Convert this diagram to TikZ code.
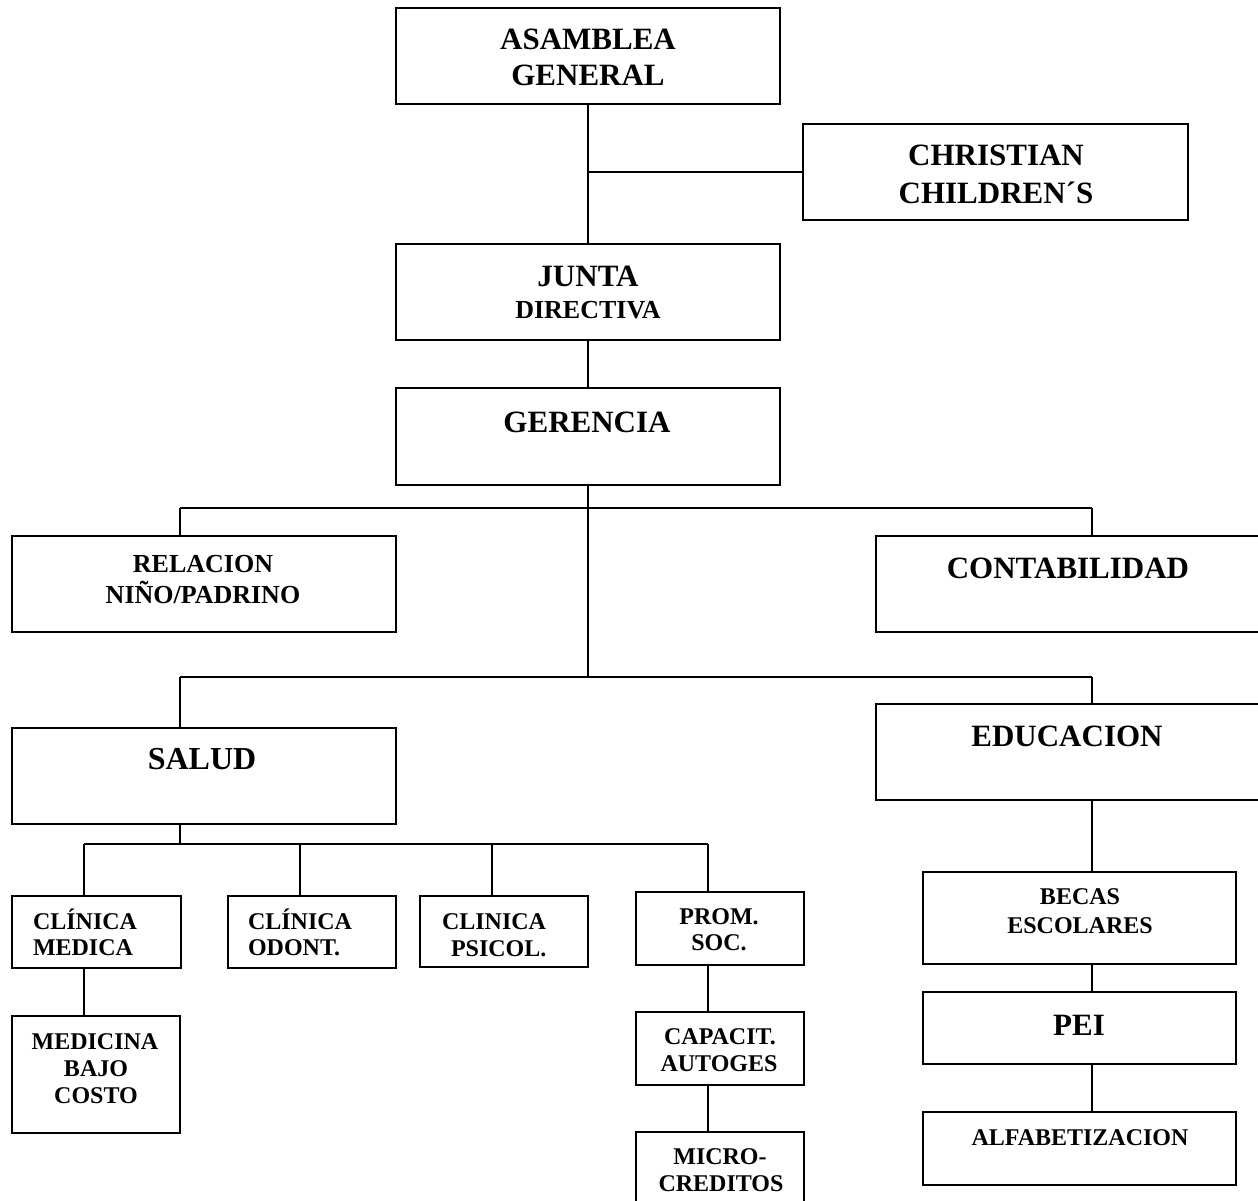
\documentclass[tikz,border=0pt]{standalone}
\usepackage{fontspec}
\setmainfont{Liberation Serif}
\newcommand{\tline}[6]{\node[tl, anchor=#2, font=\fontsize{#5}{#5}\selectfont\bfseries] (#1) at (#3,{#4+0.33*#5}) {#6};}
\newcommand{\bx}[5]{\node[box, minimum width={(#4)-(#2)}, minimum height={(#5)-(#3)}] (#1) at ({((#2)+(#4))/2},{((#3)+(#5))/2}) {};}
\begin{document}
\begin{tikzpicture}[x=1pt,y=-1pt,
  box/.style={draw, line width=1.8pt, inner sep=0pt, outer sep=0pt},
  tl/.style={inner sep=0pt, outer sep=0pt},
  conn/.style={line width=1.8pt}]
\useasboundingbox (0,0) rectangle (1258,1201);
\clip (0,0) rectangle (1258,1201);
% boxes
\bx{asm}{396}{8}{780}{104}
\bx{chr}{803}{124}{1188}{220}
\bx{jun}{396}{244}{780}{340}
\bx{ger}{396}{388}{780}{485}
\bx{rel}{12}{536}{396}{632}
\bx{con}{876}{536}{1259}{632}
\bx{sal}{12}{728}{396}{824}
\bx{edu}{876}{704}{1259}{800}
\bx{cme}{12}{896}{181}{968}
\bx{cod}{228}{896}{396}{968}
\bx{cps}{420}{896}{588}{967}
\bx{pro}{636}{892}{804}{965}
\bx{mbc}{12}{1016}{180}{1133}
\bx{cap}{636}{1012}{804}{1085}
\bx{mic}{636}{1132}{804}{1206}
\bx{bec}{923}{872}{1236}{964}
\bx{pei}{923}{992}{1236}{1064}
\bx{alf}{923}{1112}{1236}{1185}
% texts
\tline{t1}{base}{588}{39}{31}{ASAMBLEA}
\tline{t2}{base}{588}{75}{31}{GENERAL}
\tline{t3}{base}{996}{155}{31}{CHRISTIAN}
\tline{t4}{base}{996}{193}{31}{CHILDREN´S}
\tline{t5}{base}{588}{276}{31}{JUNTA}
\tline{t6}{base}{588}{310}{26}{DIRECTIVA}
\tline{t7}{base}{587}{422}{31}{GERENCIA}
\tline{t8}{base}{203}{564}{26}{RELACION}
\tline{t9}{base}{203}{595}{26}{NIÑO/PADRINO}
\tline{t10}{base}{1068}{568}{31}{CONTABILIDAD}
\tline{t11}{base}{202}{759}{32}{SALUD}
\tline{t12}{base}{1067}{736}{31}{EDUCACION}
\tline{t13}{base west}{33}{922}{24}{CLÍNICA}
\tline{t14}{base west}{33}{948}{24}{MEDICA}
\tline{t15}{base west}{248}{922}{24}{CLÍNICA}
\tline{t16}{base west}{248}{948}{24}{ODONT.}
\tline{t17}{base west}{442}{922}{24}{CLINICA}
\tline{t18}{base west}{451}{949}{24}{PSICOL.}
\tline{t19}{base}{719}{917}{24}{PROM.}
\tline{t20}{base}{719}{943}{24}{SOC.}
\tline{t21}{base}{95}{1042}{24}{MEDICINA}
\tline{t22}{base}{96}{1069}{24}{BAJO}
\tline{t23}{base}{96}{1096}{24}{COSTO}
\tline{t24}{base}{720}{1037}{24}{CAPACIT.}
\tline{t25}{base}{719}{1064}{24}{AUTOGES}
\tline{t26}{base}{720}{1157}{24}{MICRO-}
\tline{t27}{base}{721}{1184}{24}{CREDITOS}
\tline{t28}{base}{1080}{897}{24}{BECAS}
\tline{t29}{base}{1080}{926}{24}{ESCOLARES}
\tline{t30}{base}{1079}{1025}{31}{PEI}
\tline{t31}{base}{1080}{1138}{24}{ALFABETIZACION}
% junction coordinates
\coordinate (jc) at (588,172);
\coordinate (j1) at (588,508);
\coordinate (j1l) at (180,508);
\coordinate (j1r) at (1092,508);
\coordinate (j2) at (588,677);
\coordinate (j2l) at (180,677);
\coordinate (j2r) at (1092,677);
\coordinate (j3) at (180,844);
\coordinate (j3a) at (84,844);
\coordinate (j3b) at (300,844);
\coordinate (j3c) at (492,844);
\coordinate (j3d) at (708,844);
% connectors
\draw[conn] (asm.south) -- (jun.north);
\draw[conn] (jc) -- (chr.west |- jc);
\draw[conn] (jun.south) -- (ger.south |- jun.south) -- (ger.north);
\draw[conn] (ger.south) -- (j2);
\draw[conn] (j1l) -- (j1r);
\draw[conn] (j1l) -- (j1l |- rel.north);
\draw[conn] (j1r) -- (j1r |- con.north);
\draw[conn] (j2l) -- (j2r);
\draw[conn] (j2l) -- (j2l |- sal.north);
\draw[conn] (j2r) -- (j2r |- edu.north);
\draw[conn] (j3 |- sal.south) -- (j3);
\draw[conn] (j3a) -- (j3d);
\draw[conn] (j3a) -- (j3a |- cme.north);
\draw[conn] (j3b) -- (j3b |- cod.north);
\draw[conn] (j3c) -- (j3c |- cps.north);
\draw[conn] (j3d) -- (j3d |- pro.north);
\draw[conn] (j3a |- cme.south) -- (j3a |- mbc.north);
\draw[conn] (j3d |- pro.south) -- (j3d |- cap.north);
\draw[conn] (j3d |- cap.south) -- (j3d |- mic.north);
\draw[conn] (j2r |- edu.south) -- (j2r |- bec.north);
\draw[conn] (j2r |- bec.south) -- (j2r |- pei.north);
\draw[conn] (j2r |- pei.south) -- (j2r |- alf.north);
\end{tikzpicture}
\end{document}
